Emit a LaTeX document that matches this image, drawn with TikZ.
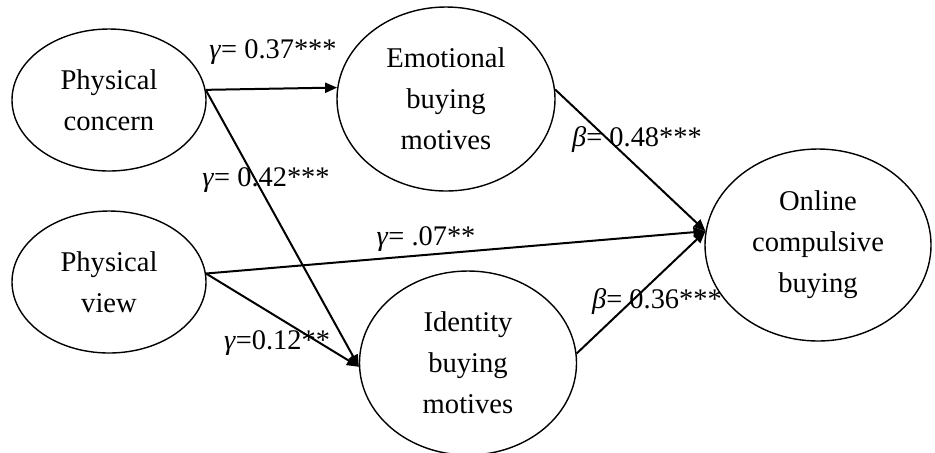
\documentclass[tikz,border=0pt]{standalone}
\usepackage{fontspec}
\setmainfont{Liberation Serif}
\usetikzlibrary{arrows.meta,shapes.geometric}
\begin{document}
\begin{tikzpicture}[x=0.5pt,y=-0.5pt,
  latent/.style={draw,line width=0.7pt,ellipse,inner sep=0pt,align=center,
    font=\fontsize{14.3}{20.5}\selectfont},
  path/.style={line width=1pt,-{Triangle[length=6pt,width=5pt]}},
  coef/.style={font=\fontsize{14.2}{16}\selectfont,inner sep=0pt}]
\useasboundingbox (0,0) rectangle (935,452);
\node[latent,minimum width=97pt,minimum height=71pt] (pc) at (109,100) {Physical\\concern};
\node[latent,minimum width=109pt,minimum height=92pt] (em) at (446,99) {Emotional\\buying\\motives};
\node[latent,minimum width=97pt,minimum height=71pt] (pv) at (109,282) {Physical\\view};
\node[latent,minimum width=108.5pt,minimum height=92pt] (id) at (468,363) {Identity\\buying\\motives};
\node[latent,minimum width=113pt,minimum height=96pt] (oc) at (818,245) {Online\\compulsive\\buying};
\draw[path] (pc.6) -- (em.174.8);
\draw[path] (pc.6) -- (id.182.6);
\draw[path] (pv.5) -- (id.182.6);
\draw[path] (pv.5) -- (oc.173.4);
\draw[path] (em.5) -- (oc.173.4);
\draw[path] (id.5.3) -- (oc.173.4);
\node[coef] (l1) at (273,52) {\textit{γ}= 0.37***};
\node[coef] (l2) at (266,180) {\textit{γ}= 0.42***};
\node[coef] (l3) at (277,343) {\textit{γ}=0.12**};
\node[coef] (l4) at (426,239) {\textit{γ}= .07**};
\node[coef] (l5) at (637,140) {\textit{β}= 0.48***};
\node[coef] (l6) at (657,302) {\textit{β}= 0.36***};
\end{tikzpicture}
\end{document}
